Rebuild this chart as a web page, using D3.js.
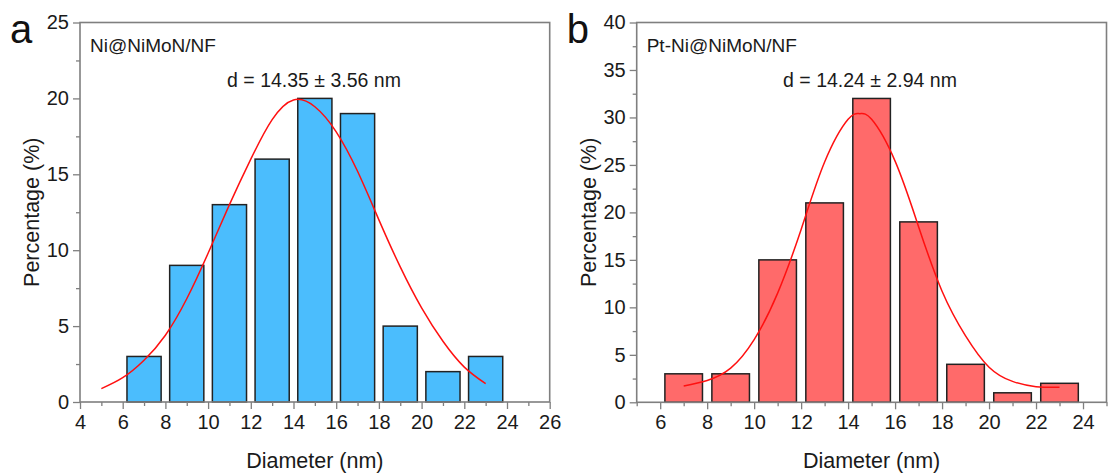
<!DOCTYPE html>
<html>
<head>
<meta charset="utf-8">
<script src="https://cdn.jsdelivr.net/npm/d3@7"></script>
<style>
  html, body { margin: 0; padding: 0; background: #fff; }
  svg { display: block; font-family: "Liberation Sans", Arial, sans-serif; }
</style>
</head>
<body>
<svg id="chart" width="1108" height="473"></svg>
<script>
// ---------- data ----------
const binCentersA = [7, 9, 11, 13, 15, 17, 19, 21, 23];
const percentA    = [3, 9, 13, 16, 20, 19, 5, 2, 3];
const binCentersB = [7, 9, 11, 13, 15, 17, 19, 21, 23];
const percentB    = [3, 3, 15, 21, 32, 19, 4, 1, 2];
const binWidth = 1.6;

// fitted curves
const fitAx = [5, 6, 7, 8, 9, 10, 11, 12, 13, 14, 15, 16, 17, 18, 19, 20, 21, 22, 23];
const fitAy = [0.88, 1.6, 2.75, 4.4, 6.8, 9.8, 13.0, 16.0, 18.6, 19.9, 19.45, 17.8, 15.2, 12.0, 8.9, 6.2, 4.0, 2.3, 1.21];
const fitBx = [7, 8, 9, 10, 11, 12, 13, 14, 14.5, 15, 16, 17, 18, 19, 20, 21, 22, 23];
const fitBy = [1.72, 2.3, 3.6, 6.6, 11.5, 18.2, 25.3, 29.8, 30.4, 29.8, 25.4, 18.5, 11.7, 7.0, 3.7, 2.2, 1.65, 1.58];

const xTicksA = [4, 6, 8, 10, 12, 14, 16, 18, 20, 22, 24, 26];
const xMinorA = [5, 7, 9, 11, 13, 15, 17, 19, 21, 23, 25];
const yTicksA = [0, 5, 10, 15, 20, 25];
const yMinorA = [2.5, 7.5, 12.5, 17.5, 22.5];
const xTicksB = [6, 8, 10, 12, 14, 16, 18, 20, 22, 24];
const xMinorB = [5, 7, 9, 11, 13, 15, 17, 19, 21, 23, 25];
const yTicksB = [0, 5, 10, 15, 20, 25, 30, 35, 40];
const yMinorB = [2.5, 7.5, 12.5, 17.5, 22.5, 27.5, 32.5, 37.5];

const panels = [
  { letter: "a", sample: "Ni@NiMoN/NF", stat: "d = 14.35 \u00b1 3.56 nm",
    centers: binCentersA, values: percentA, fitX: fitAx, fitY: fitAy,
    xDomain: [4, 26], yDomain: [0, 25], xTicks: xTicksA, xMinor: xMinorA, yTicks: yTicksA, yMinor: yMinorA,
    left: 80, right: 549.7, top: 22.5, bottom: 402, fill: "#4bbdfd", statX: 314 },
  { letter: "b", sample: "Pt-Ni@NiMoN/NF", stat: "d = 14.24 \u00b1 2.94 nm",
    centers: binCentersB, values: percentB, fitX: fitBx, fitY: fitBy,
    xDomain: [5, 25], yDomain: [0, 40], xTicks: xTicksB, xMinor: xMinorB, yTicks: yTicksB, yMinor: yMinorB,
    left: 636.7, right: 1106.5, top: 22.5, bottom: 402.3, fill: "#ff6a6a", statX: 870 }
];

const svg = d3.select("#chart");
const axisColor = "#7f7f7f";
const textColor = "#1a1a1a";

panels.forEach(p => {
  const x = d3.scaleLinear().domain(p.xDomain).range([p.left, p.right]);
  const y = d3.scaleLinear().domain(p.yDomain).range([p.bottom, p.top]);
  const g = svg.append("g");

  // bars
  g.selectAll("rect.bar").data(p.centers.map((c, i) => ({ c, v: p.values[i] })))
    .enter().append("rect")
    .attr("class", "bar")
    .attr("x", d => x(d.c - binWidth / 2))
    .attr("width", d => x(d.c + binWidth / 2) - x(d.c - binWidth / 2))
    .attr("y", d => y(d.v))
    .attr("height", d => y(0) - y(d.v))
    .attr("fill", p.fill)
    .attr("stroke", "#222")
    .attr("stroke-width", 1.5);

  // fit curve
  const line = d3.line().x(d => x(d[0])).y(d => y(d[1])).curve(d3.curveNatural);
  g.append("path")
    .datum(p.fitX.map((v, i) => [v, p.fitY[i]]))
    .attr("d", line)
    .attr("fill", "none")
    .attr("stroke", "#ff1010")
    .attr("stroke-width", 1.5);

  // axes
  const styleAxis = sel => {
    sel.select(".domain").remove();
    sel.selectAll(".tick line").attr("stroke", axisColor).attr("stroke-width", 1.3);
    sel.selectAll(".tick text").attr("fill", textColor).style("font-size", "20px");
  };
  g.append("g").attr("transform", `translate(0,${p.bottom})`)
    .call(d3.axisBottom(x).tickValues(p.xTicks).tickSize(7).tickPadding(6).tickFormat(d3.format("d")))
    .call(styleAxis);
  g.append("g").attr("transform", `translate(0,${p.bottom})`)
    .call(d3.axisBottom(x).tickValues(p.xMinor).tickSize(4).tickFormat(""))
    .call(styleAxis);
  g.append("g").attr("transform", `translate(${p.left},0)`)
    .call(d3.axisLeft(y).tickValues(p.yTicks).tickSize(7).tickPadding(4).tickFormat(d3.format("d")))
    .call(styleAxis);
  g.append("g").attr("transform", `translate(${p.left},0)`)
    .call(d3.axisLeft(y).tickValues(p.yMinor).tickSize(4).tickFormat(""))
    .call(styleAxis);

  // frame
  g.append("rect")
    .attr("x", p.left).attr("y", p.top)
    .attr("width", p.right - p.left).attr("height", p.bottom - p.top)
    .attr("fill", "none").attr("stroke", axisColor).attr("stroke-width", 1.6);

  // texts
  g.append("text").attr("x", p.left - 70).attr("y", 43)
    .attr("fill", "#111").style("font-size", "40px").text(p.letter);
  g.append("text").attr("x", p.left + 10).attr("y", 52)
    .attr("fill", textColor).style("font-size", "19px").text(p.sample);
  g.append("text").attr("x", p.statX).attr("y", 87).attr("text-anchor", "middle")
    .attr("fill", textColor).style("font-size", "19.5px").text(p.stat);
  g.append("text").attr("x", (p.left + p.right) / 2).attr("y", 468).attr("text-anchor", "middle")
    .attr("fill", textColor).style("font-size", "21.5px").text("Diameter (nm)");
  g.append("text")
    .attr("transform", `translate(${p.left - 41},${(p.top + p.bottom) / 2}) rotate(-90)`)
    .attr("text-anchor", "middle")
    .attr("fill", textColor).style("font-size", "21.5px").text("Percentage (%)");
});
</script>
</body>
</html>
